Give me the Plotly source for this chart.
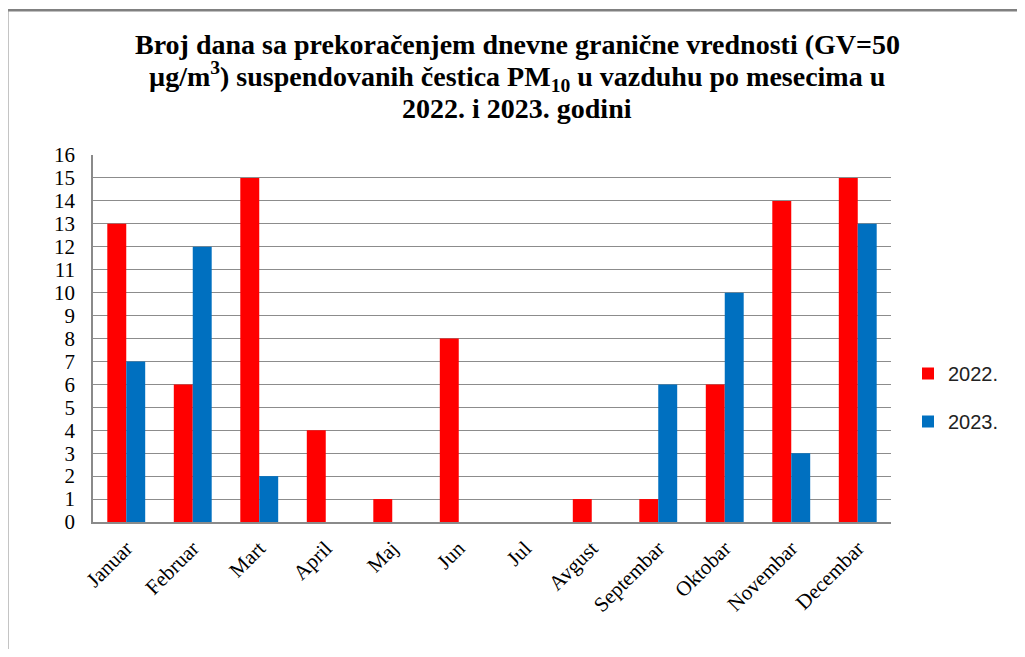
import plotly.graph_objects as go

months = ["Januar", "Februar", "Mart", "April", "Maj", "Jun", "Jul",
          "Avgust", "Septembar", "Oktobar", "Novembar", "Decembar"]
y2022 = [13, 6, 15, 4, 1, 8, 0, 1, 1, 6, 14, 15]
y2023 = [7, 12, 2, 0, 0, 0, 0, 0, 6, 10, 3, 13]
yticks = list(range(0, 17))
title_lines = [
    "Broj dana sa prekoračenjem dnevne granične vrednosti (GV=50",
    "µg/m<sup>3</sup>) suspendovanih čestica PM<sub>10</sub> u vazduhu po mesecima u",
    "2022. i 2023. godini",
]

# page has an 8px body margin; figure coordinates = screen coordinates - 8
OFF = 8
W, H = 1025 - 2 * OFF, 657 - 2 * OFF
L, R, T, B = 93 - OFF, 891 - OFF, 155 - OFF, 522 - OFF
pw, ph = R - L, B - T

def px(x):
    return (x - OFF - L) / pw

def py(y):
    return (B - (y - OFF)) / ph

fig = go.Figure()
fig.add_trace(go.Bar(name="2022.", x=months, y=y2022, marker_color="#FF0000",
                     marker_line_width=0, legendgroup="a"))
fig.add_trace(go.Bar(name="2023.", x=months, y=y2023, marker_color="#0070C0",
                     marker_line_width=0, legendgroup="b"))

# outer frame (top and left edges visible in the reference), drawn as thin filled bars
fig.add_shape(type="rect", xref="paper", yref="paper",
              x0=px(7), x1=px(1017), y0=py(11.5), y1=py(9),
              fillcolor="#808080", line_width=0, layer="above")
fig.add_shape(type="rect", xref="paper", yref="paper",
              x0=px(7), x1=px(8.5), y0=py(649), y1=py(9),
              fillcolor="#8a8a8a", line_width=0, layer="above")

for line, yc in zip(title_lines, [44, 77, 109]):
    fig.add_annotation(
        text=line, xref="paper", yref="paper", x=px(517), y=py(yc),
        xanchor="center", yanchor="middle", showarrow=False, align="center",
        font=dict(family="Liberation Serif", size=28, color="black", weight="bold"),
    )

fig.update_layout(
    width=W, height=H,
    margin=dict(l=L, r=W - R, t=T, b=H - B, pad=0),
    paper_bgcolor="white", plot_bgcolor="white",
    bargap=0.43, bargroupgap=0,
    font=dict(family="Liberation Serif", color="black"),
    xaxis=dict(
        tickangle=-45, tickfont=dict(family="Liberation Serif", size=21, color="black"),
        showline=True, linecolor="#8a8a8a", linewidth=1.5,
        ticks="", showgrid=False, ticklabelstandoff=4,
    ),
    yaxis=dict(
        range=[0, 16], tickvals=yticks, ticktext=[str(v) for v in yticks],
        tickfont=dict(family="Liberation Serif", size=21, color="black"),
        showgrid=True, gridcolor="#8c8c8c", gridwidth=1.2,
        showline=True, linecolor="#8a8a8a", linewidth=1.5,
        ticks="", ticklabelstandoff=12, zeroline=False,
    ),
    legend=dict(
        x=px(908), xanchor="left", y=py(354), yanchor="top",
        font=dict(family="Liberation Sans", size=20, color="#222"),
        tracegroupgap=19, itemwidth=30, bgcolor="rgba(0,0,0,0)",
    ),
)

fig.write_html("out.html", config={"displayModeBar": False})
